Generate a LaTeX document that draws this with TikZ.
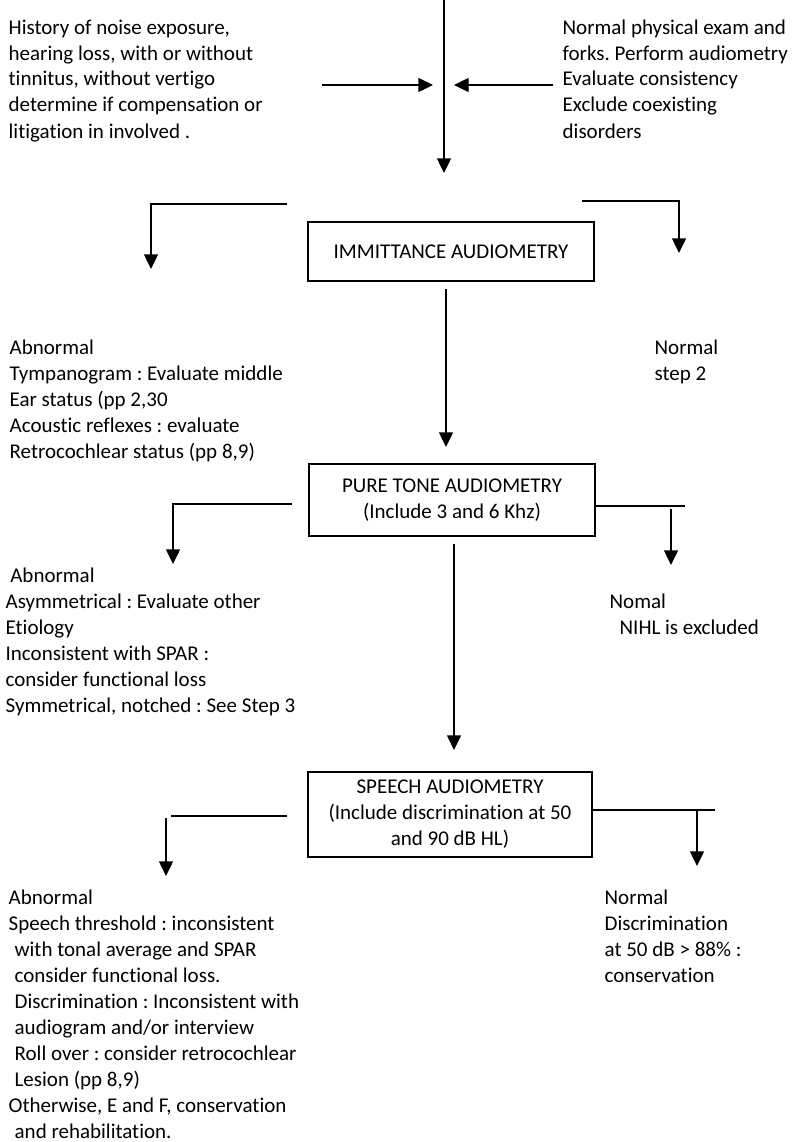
\documentclass[tikz,border=0pt]{standalone}
\usepackage{fontspec}
\setmainfont{Carlito}[Ligatures=NoCommon]
\usepackage{tikz}
\usetikzlibrary{arrows.meta}

\newcommand{\flowfont}{\fontsize{15.75pt}{19.5pt}\selectfont\frenchspacing}
\newcommand{\txtlines}[1]{\begin{tabular}[t]{@{}l@{}}#1\end{tabular}}
\newcommand{\ind}{\hspace*{4.5pt}}

\begin{document}
\begin{tikzpicture}[x=0.75pt,y=0.75pt,yscale=-1,xscale=1,line width=1pt,
  arr/.style={-{Triangle[length=11pt,width=10.5pt]}},
  box/.style={draw,line width=1.5pt,inner sep=0pt,align=center,font=\flowfont},
  txt/.style={anchor=base west,inner sep=0pt,font=\flowfont}]
\useasboundingbox (0,0) rectangle (806,1142);

%Straight Lines: main stem
\coordinate (stemtop) at (444,0);
\coordinate (stemend) at (444,173);
\draw[arr] (stemtop) -- (stemend);
%Straight Lines: arrows into stem
\coordinate (histout) at (322,85);
\coordinate (histin) at (433,85);
\draw[arr] (histout) -- (histin);
\coordinate (examout) at (553,85);
\coordinate (examin) at (454,85);
\draw[arr] (examout) -- (examin);

% Text Node
\node[txt] (hist) at (8,34) {\txtlines{History of noise exposure,\\
hearing loss, with or without\\
tinnitus, without vertigo\\
determine if compensation or\\
litigation in involved .}};
% Text Node
\node[txt] (exam) at (562,34) {\txtlines{Normal physical exam and\\
forks. Perform audiometry\\
Evaluate consistency\\
Exclude coexisting\\
disorders}};

%Shape: Rectangle
\node[box,minimum width=214.5pt,minimum height=44.25pt] (imm) at (451,251.5)
{IMMITTANCE AUDIOMETRY};
%Straight Lines: immittance branches
\coordinate (immla) at (287,204);
\coordinate (immlb) at (151,204);
\coordinate (immlc) at (151,269);
\draw[arr] (immla) -- (immlb) -- (immlc);
\coordinate (immra) at (582,201);
\coordinate (immrb) at (679,201);
\coordinate (immrc) at (679,253);
\draw[arr] (immra) -- (immrb) -- (immrc);
\coordinate (immdown) at (446,289);
\coordinate (immend) at (446,447);
\draw[arr] (immdown) -- (immend);

% Text Node
\node[txt] (abnimm) at (9,354) {\txtlines{Abnormal\\
Tympanogram : Evaluate middle\\
Ear status (pp 2,30\\
Acoustic reflexes : evaluate\\
Retrocochlear status (pp 8,9)}};
% Text Node
\node[txt] (normimm) at (654,354) {\txtlines{Normal\\
step 2}};

%Shape: Rectangle
\node[box,minimum width=214.5pt,minimum height=54pt] (pure) at (452,500)
{PURE TONE AUDIOMETRY\\(Include 3 and 6 Khz)};
%Straight Lines: pure tone branches
\coordinate (purela) at (292,504);
\coordinate (purelb) at (173,504);
\coordinate (purelc) at (173,564);
\draw[arr] (purela) -- (purelb) -- (purelc);
\coordinate (purera) at (595,506);
\coordinate (purerb) at (685,506);
\draw (purera) -- (purerb);
\coordinate (purerc) at (671,509);
\coordinate (purerd) at (671,565);
\draw[arr] (purerc) -- (purerd);
\coordinate (puredown) at (454,544);
\coordinate (pureend) at (454,750);
\draw[arr] (puredown) -- (pureend);

% Text Node
\node[txt] (abnpure) at (5,582) {\txtlines{\hspace*{3.5pt}Abnormal\\
Asymmetrical : Evaluate other\\
Etiology\\
Inconsistent with SPAR :\\
consider functional loss\\
Symmetrical, notched : See Step 3}};
% Text Node
\node[txt] (normpure) at (609,608) {\txtlines{Nomal\\
\hspace*{7.5pt}NIHL is excluded}};

%Shape: Rectangle
\node[box,minimum width=213pt,minimum height=63.75pt] (speech) at (450,814.5)
{SPEECH AUDIOMETRY\\(Include discrimination at 50\\and 90 dB HL)};
%Straight Lines: speech branches
\coordinate (speechla) at (287,816);
\coordinate (speechlb) at (171,816);
\draw (speechla) -- (speechlb);
\coordinate (speechlc) at (166,818);
\coordinate (speechld) at (166,876);
\draw[arr] (speechlc) -- (speechld);
\coordinate (speechra) at (592,810);
\coordinate (speechrb) at (715,810);
\draw (speechra) -- (speechrb);
\coordinate (speechrc) at (697,811);
\coordinate (speechrd) at (697,866);
\draw[arr] (speechrc) -- (speechrd);

% Text Node
\node[txt] (abnspeech) at (8,904) {\txtlines{Abnormal\\
Speech threshold : inconsistent\\
\ind with tonal average and SPAR\\
\ind consider functional loss.\\
\ind Discrimination : Inconsistent with\\
\ind audiogram and/or interview\\
\ind Roll over : consider retrocochlear\\
\ind Lesion (pp 8,9)\\
Otherwise, E and F, conservation\\
\ind and rehabilitation.}};
% Text Node
\node[txt] (normspeech) at (604,904) {\txtlines{Normal\\
Discrimination\\
at 50 dB > 88\% :\\
conservation}};

\end{tikzpicture}
\end{document}
